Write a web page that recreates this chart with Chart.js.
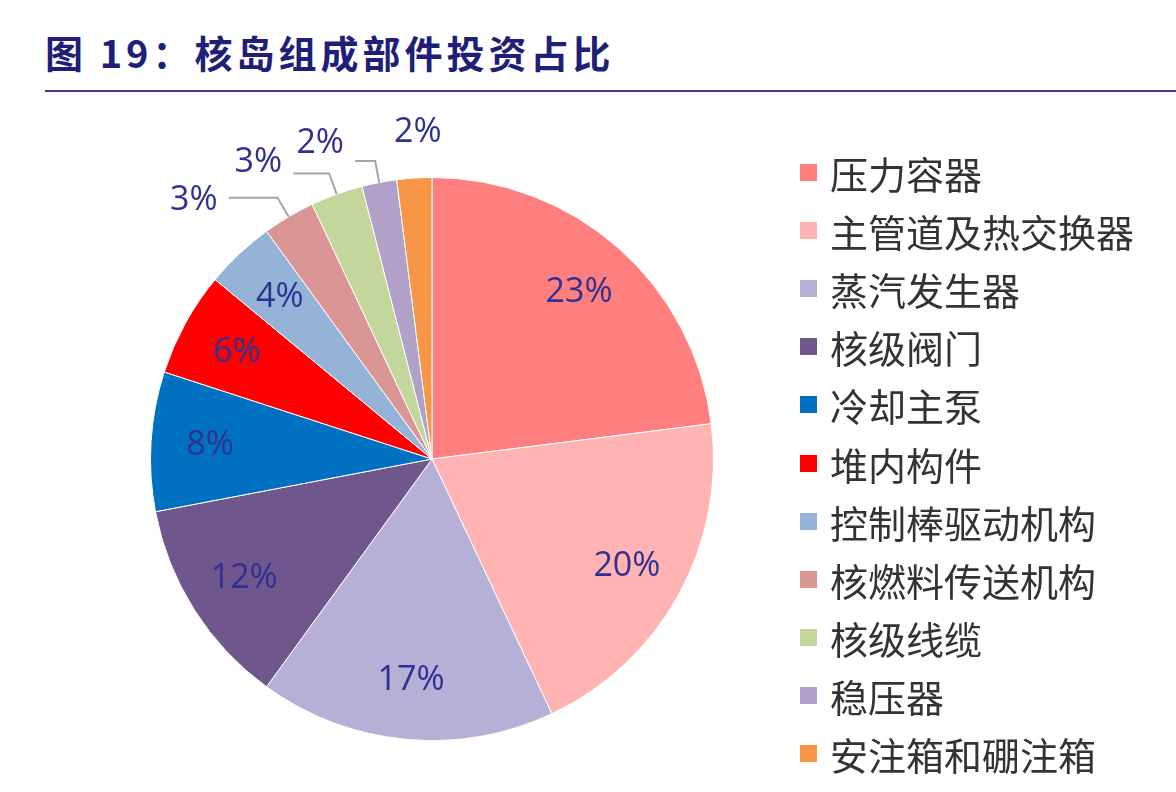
<!DOCTYPE html>
<html>
<head>
<meta charset="utf-8">
<script src="https://cdn.jsdelivr.net/npm/chart.js"></script>
<style>
  body { margin: 0; width: 1176px; height: 792px; background: #fff; position: relative; overflow: hidden; font-family: "Noto Sans CJK SC", sans-serif; }
  #titulo { position: absolute; left: 45px; top: 24px; font-size: 38px; font-weight: bold; color: #1F1F7A; letter-spacing: 4px; }
  #linha { position: absolute; left: 45px; right: 0; top: 90px; border-top: 2px solid #3B3B8F; }
  #wrap { position: absolute; left: 0; top: 99px; width: 864px; height: 720px; }
  #legenda { position: absolute; left: 800px; top: 143px; z-index: 2; }
  .item { height: 58.2px; display: flex; align-items: center; font-size: 38px; color: #333; }
  .caixa { width: 17px; height: 17px; margin-right: 13px; }
</style>
</head>
<body>
<div id="titulo">图 19：核岛组成部件投资占比</div>
<div id="linha"></div>
<div id="wrap"><canvas id="chartPie"></canvas></div>
<div id="legenda"></div>
<script>
const categorias = ['压力容器', '主管道及热交换器', '蒸汽发生器', '核级阀门', '冷却主泵', '堆内构件', '控制棒驱动机构', '核燃料传送机构', '核级线缆', '稳压器', '安注箱和硼注箱'];
const valores = [23, 20, 17, 12, 8, 6, 4, 3, 3, 2, 2];
const cores = ['#FF7F7F', '#FFB3B3', '#B7B0D6', '#6F568C', '#0070C0', '#FF0000', '#95B3D7', '#D99694', '#C3D69B', '#B1A0C7', '#F79646'];

let legenda = document.getElementById('legenda');
categorias.forEach((c, i) => {
    legenda.innerHTML += `<div class="item"><div class="caixa" style="background:${cores[i]}"></div>${c}</div>`;
});

// deslocamento dos rótulos externos (graus, fator de raio) na ordem das fatias pequenas
const desvioExterno = [[-12, 1.25], [-10.6, 1.22], [-8.7, 1.19], [1.1, 1.16]];

const rotulos = {
    id: 'rotulos',
    afterDatasetsDraw(chart) {
        const ctx = chart.ctx;
        const meta = chart.getDatasetMeta(0);
        ctx.save();
        ctx.font = '34px "Open Sans", sans-serif';
        ctx.fillStyle = '#2E3192';
        ctx.textAlign = 'center';
        ctx.textBaseline = 'middle';
        let n = 0;
        meta.data.forEach((arc, i) => {
            const a = (arc.startAngle + arc.endAngle) / 2;
            const r = arc.outerRadius;
            const txt = valores[i] + '%';
            if (valores[i] >= 4) {
                ctx.fillText(txt, arc.x + Math.cos(a) * r * 0.79, arc.y + Math.sin(a) * r * 0.79);
            } else {
                const [dg, f] = desvioExterno[n++];
                const la = a + dg * Math.PI / 180;
                const lx = arc.x + Math.cos(la) * r * f, ly = arc.y + Math.sin(la) * r * f;
                if (dg < 0) {
                    const ex = arc.x + Math.cos(a) * r, ey = arc.y + Math.sin(a) * r;
                    const mx = arc.x + Math.cos(a) * (r + 22), my = arc.y + Math.sin(a) * (r + 22);
                    ctx.strokeStyle = '#A6A6A6';
                    ctx.lineWidth = 2;
                    ctx.beginPath();
                    ctx.moveTo(ex, ey); ctx.lineTo(mx, my); ctx.lineTo(lx + 35, my);
                    ctx.stroke();
                }
                ctx.fillText(txt, lx, ly);
            }
        });
        ctx.restore();
    }
};

new Chart(document.getElementById('chartPie'), {
    type: 'pie',
    data: {
        labels: categorias,
        datasets: [{ data: valores, backgroundColor: cores, borderColor: '#fff', borderWidth: 1 }]
    },
    options: {
        responsive: true,
        maintainAspectRatio: false,
        animation: false,
        layout: { padding: 78 },
        plugins: { legend: { display: false }, tooltip: { enabled: false } }
    },
    plugins: [rotulos]
});
</script>
</body>
</html>
